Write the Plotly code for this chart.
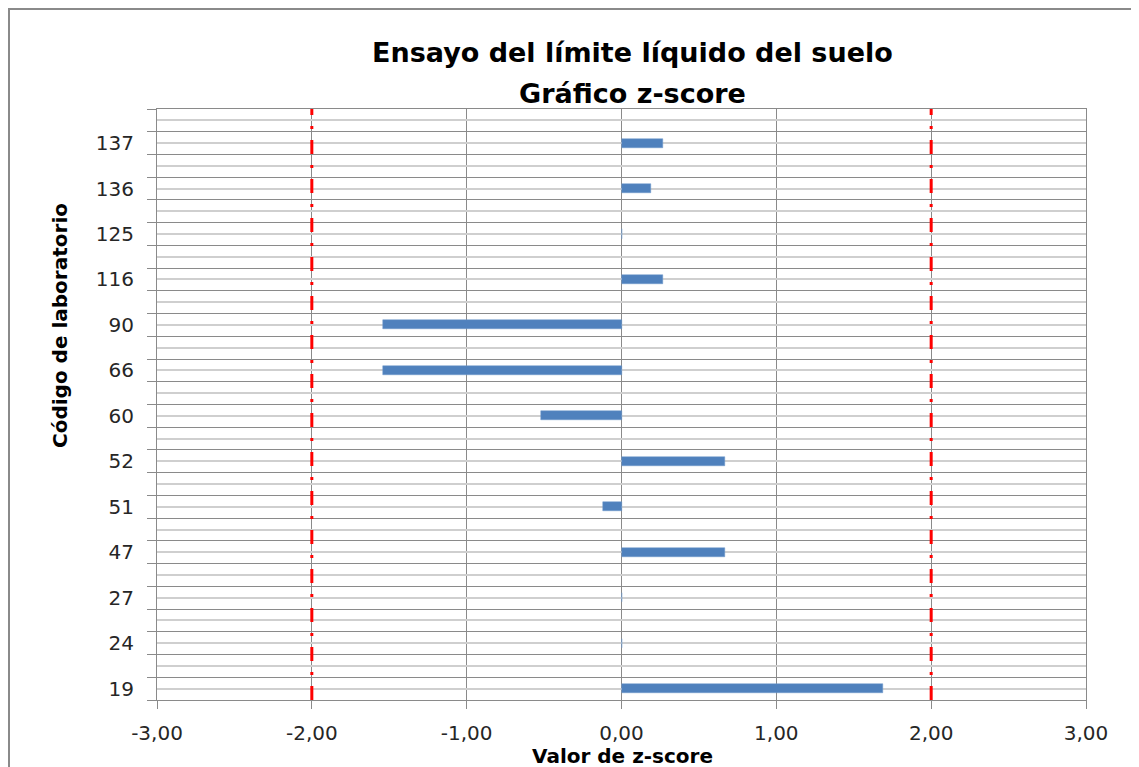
import plotly.graph_objects as go

# ---- data ----
codes = ["19", "24", "27", "47", "51", "52", "60", "66", "90", "116", "125", "136", "137"]
zscores = [1.69, 0.0, 0.0, 0.67, -0.12, 0.67, -0.52, -1.54, -1.54, 0.27, 0.0, 0.19, 0.27]
n_slots = 26                      # category rows on the axis (every other one labelled)
limits = [-2.0, 2.0]              # |z| = 2 action limits
x_ticks = [-3, -2, -1, 0, 1, 2, 3]
x_tick_text = ["-3,00", "-2,00", "-1,00", "0,00", "1,00", "2,00", "3,00"]

title_lines = ["Ensayo del límite líquido del suelo", "Gráfico z-score"]
y_title = "Código de laboratorio"
x_title = "Valor de z-score"

# ---- derived positions ----
bar_pos = [2 * i for i in range(len(codes))]
centers = list(range(n_slots))
center_text = [""] * n_slots
for p, c in zip(bar_pos, codes):
    center_text[p] = c
bounds = [i - 0.5 for i in range(n_slots + 1)]

OFF = 8                      # page body margin
W, H = 1139 - OFF, 767 - OFF
L, T = 157 - OFF, 109 - OFF
pw, ph = 929, 591
R, B = W - L - pw, H - T - ph

def px(x):   # page pixel -> paper x
    return (x - OFF - L) / pw

def py(y):   # page pixel -> paper y
    return (T + ph - (y - OFF)) / ph

FONT = "DejaVu Sans"
TXT = "#262626"
GRID_DARK = "#8a8a8a"
GRID_LIGHT = "#cfcfcf"

fig = go.Figure()
fig.add_trace(go.Bar(
    x=zscores, y=bar_pos, orientation="h", width=0.4,
    marker=dict(color="#4F81BD", line=dict(color="#6f98cc", width=0.5)),
    showlegend=False, hoverinfo="x+y",
))
for lim in limits:
    fig.add_trace(go.Scatter(
        x=[lim, lim], y=[bounds[0], bounds[-1]], mode="lines",
        line=dict(color="#FF0000", width=3, dash="14px,11px,3px,11px"),
        showlegend=False, hoverinfo="skip",
    ))

fig.update_layout(
    width=W, height=H,
    margin=dict(l=L, r=R, t=T, b=B, pad=0),
    paper_bgcolor="white", plot_bgcolor="white",
    separators=",.",
    font=dict(family=FONT, color=TXT),
    bargap=0,
    xaxis=dict(
        range=[x_ticks[0], x_ticks[-1]], tickmode="array",
        tickvals=x_ticks, ticktext=x_tick_text,
        showgrid=True, gridcolor=GRID_DARK, gridwidth=1,
        zeroline=False, showline=True, linecolor=GRID_DARK, linewidth=1, mirror=True,
        ticks="outside", ticklen=8, tickcolor=GRID_DARK,
        tickfont=dict(family=FONT, size=20, color=TXT),
        ticklabelstandoff=7,
    ),
    yaxis=dict(
        range=[bounds[0], bounds[-1]], tickmode="array",
        tickvals=centers, ticktext=center_text,
        showgrid=True, gridcolor=GRID_LIGHT, gridwidth=2,
        zeroline=False, showline=True, linecolor=GRID_DARK, linewidth=1, mirror=True,
        ticks="", tickfont=dict(family=FONT, size=20, color=TXT),
        ticklabelstandoff=18,
        minor=dict(tickmode="array", tickvals=bounds, showgrid=True,
                   gridcolor=GRID_DARK, gridwidth=1,
                   ticks="outside", ticklen=9, tickcolor=GRID_DARK),
    ),
    annotations=[
        dict(text=f"<b>{title_lines[0]}</b>", x=px(632.5), y=py(52), xref="paper", yref="paper",
             showarrow=False, xanchor="center", yanchor="middle",
             font=dict(family=FONT, size=27, color="#000000")),
        dict(text=f"<b>{title_lines[1]}</b>", x=px(632.5), y=py(93), xref="paper", yref="paper",
             showarrow=False, xanchor="center", yanchor="middle",
             font=dict(family=FONT, size=27, color="#000000")),
        dict(text=f"<b>{y_title}</b>", x=px(60), y=py(326), xref="paper", yref="paper",
             showarrow=False, xanchor="center", yanchor="middle", textangle=-90,
             font=dict(family=FONT, size=20, color="#000000")),
        dict(text=f"<b>{x_title}</b>", x=px(622), y=py(756), xref="paper", yref="paper",
             showarrow=False, xanchor="center", yanchor="middle",
             font=dict(family=FONT, size=20, color="#000000")),
    ],
    shapes=[
        dict(type="rect", xref="paper", yref="paper",
             x0=px(9), x1=px(1160), y0=py(790), y1=py(9),
             line=dict(color="#8a8a8a", width=2), fillcolor="rgba(0,0,0,0)", layer="below"),
    ],
)

fig.write_html("out.html")
